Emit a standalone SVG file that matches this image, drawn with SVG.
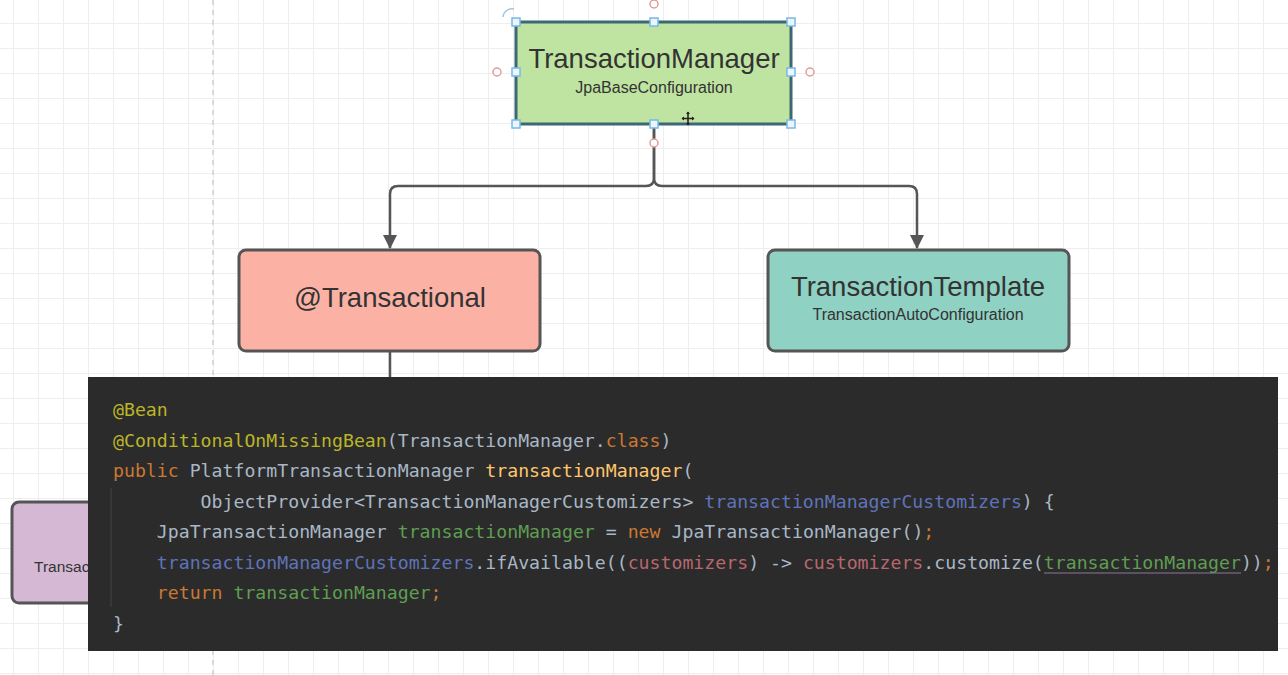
<svg xmlns="http://www.w3.org/2000/svg" width="1288" height="675" viewBox="0 0 1288 675">
  <defs>
    <pattern id="grid" patternUnits="userSpaceOnUse" x="13" y="23" width="25" height="25">
      <path d="M0 0.5 H25 M0.5 0 V25" fill="none" stroke="#eeeeee" stroke-width="1"/>
    </pattern>
    <marker id="arrow" viewBox="0 0 14 14" refX="13" refY="7" markerWidth="14" markerHeight="14" markerUnits="userSpaceOnUse" orient="auto">
      <path d="M0 0 L14 7 L0 14 Z" fill="#555555"/>
    </marker>
    <style>
      .node { stroke: #555555; stroke-width: 3; }
      .title { font-family: "Liberation Sans", Arial, sans-serif; font-size: 27.5px; fill: #333333; text-anchor: middle; }
      .sub { font-family: "Liberation Sans", Arial, sans-serif; font-size: 16px; fill: #333333; text-anchor: middle; }
      .conn { fill: none; stroke: #555555; stroke-width: 2.5; }
      .handle { fill: #eaf5fd; stroke: #7ab8e6; stroke-width: 1.5; }
      .anchor { fill: #ffffff; stroke: #e39a9a; stroke-width: 1.5; }
      .code { font-family: "DejaVu Sans Mono", "Liberation Mono", monospace; font-size: 18.2px; fill: #a9b7c6; white-space: pre; }
      .ann { fill: #bbb529; }
      .kw { fill: #cc7832; }
      .mth { fill: #ffc66d; }
      .prm { fill: #5f73b8; }
      .lam { fill: #b9676d; }
      .loc { fill: #5f9e52; }
    </style>
  </defs>

  <rect x="0" y="0" width="1288" height="675" fill="#ffffff"/>
  <rect x="0" y="0" width="1288" height="675" fill="url(#grid)"/>
  <line x1="213" y1="0" x2="213" y2="675" stroke="#d0d0d0" stroke-width="1.5" stroke-dasharray="5 5"/>

  <g id="connectors">
    <path class="conn" d="M654 124 V178 Q654 186 646 186 H398 Q390 186 390 194 V248" marker-end="url(#arrow)"/>
    <path class="conn" d="M654 124 V178 Q654 186 662 186 H909 Q917 186 917 194 V248" marker-end="url(#arrow)"/>
    <path class="conn" d="M390 351 V378"/>
  </g>

  <g id="node-transaction-manager">
    <rect x="516" y="22" width="275" height="102" rx="2" fill="#bfe4a1" stroke="#3b6875" stroke-width="3"/>
    <text class="title" x="654" y="68">TransactionManager</text>
    <text class="sub" x="654" y="93">JpaBaseConfiguration</text>
  </g>

  <g id="selection">
    <path d="M503 17 A9 9 0 0 1 514 9" fill="none" stroke="#9cc6e8" stroke-width="1.5"/>
    <circle class="anchor" cx="654" cy="4" r="4"/>
    <circle class="anchor" cx="497" cy="72" r="4"/>
    <circle class="anchor" cx="810" cy="72" r="4"/>
    <circle class="anchor" cx="654" cy="143" r="4"/>
    <rect class="handle" x="512" y="18" width="8" height="8"/>
    <rect class="handle" x="650" y="18" width="8" height="8"/>
    <rect class="handle" x="787" y="18" width="8" height="8"/>
    <rect class="handle" x="512" y="68" width="8" height="8"/>
    <rect class="handle" x="787" y="68" width="8" height="8"/>
    <rect class="handle" x="512" y="120" width="8" height="8"/>
    <rect class="handle" x="650" y="120" width="8" height="8"/>
    <rect class="handle" x="787" y="120" width="8" height="8"/>
    <path d="M688 112 V125 M682 118.5 H694" stroke="#222222" stroke-width="1.6"/>
    <path d="M686 114 L688 111.5 L690 114 Z M686 123 L688 125.5 L690 123 Z M684 116.5 L681.5 118.5 L684 120.5 Z M692 116.5 L694.5 118.5 L692 120.5 Z" fill="#222222"/>
  </g>

  <g id="node-transactional">
    <rect class="node" x="239" y="250" width="301" height="101" rx="7" fill="#fbb2a5"/>
    <text class="title" x="390" y="307">@Transactional</text>
  </g>

  <g id="node-transaction-template">
    <rect class="node" x="768" y="250" width="301" height="101" rx="7" fill="#8fd1c3"/>
    <text class="title" x="918" y="296">TransactionTemplate</text>
    <text class="sub" x="918" y="320">TransactionAutoConfiguration</text>
  </g>

  <g id="node-left">
    <rect class="node" x="12" y="502" width="301" height="101" rx="7" fill="#d5b9d4"/>
    <text x="34" y="572" font-family="'Liberation Sans', Arial, sans-serif" font-size="15.5" fill="#333333">Transac</text>
  </g>

  <g id="code-block">
    <rect x="88" y="377" width="1190" height="274" fill="#2b2b2b"/>
    <line x1="111" y1="488" x2="111" y2="607" stroke="#3d3d3d" stroke-width="1.5"/>
    <text class="code" x="113" y="416"><tspan class="ann">@Bean</tspan></text>
    <text class="code" x="113" y="446.5"><tspan class="ann">@ConditionalOnMissingBean</tspan>(TransactionManager.<tspan class="kw">class</tspan>)</text>
    <text class="code" x="113" y="477"><tspan class="kw">public</tspan> PlatformTransactionManager <tspan class="mth">transactionManager</tspan>(</text>
    <text class="code" x="113" y="507.5">        ObjectProvider&lt;TransactionManagerCustomizers&gt; <tspan class="prm">transactionManagerCustomizers</tspan>) {</text>
    <text class="code" x="113" y="538">    JpaTransactionManager <tspan class="loc">transactionManager</tspan> = <tspan class="kw">new</tspan> JpaTransactionManager()<tspan class="kw">;</tspan></text>
    <text class="code" x="113" y="568.5">    <tspan class="prm">transactionManagerCustomizers</tspan>.ifAvailable((<tspan class="lam">customizers</tspan>) -&gt; <tspan class="lam">customizers</tspan>.customize(<tspan class="loc">transactionManager</tspan>))<tspan class="kw">;</tspan></text>
    <line x1="1044" y1="573" x2="1241" y2="573" stroke="#8a7a9a" stroke-width="1.2"/>
    <text class="code" x="113" y="599">    <tspan class="kw">return</tspan> <tspan class="loc">transactionManager</tspan><tspan class="kw">;</tspan></text>
    <text class="code" x="113" y="629.5">}</text>
  </g>
</svg>
